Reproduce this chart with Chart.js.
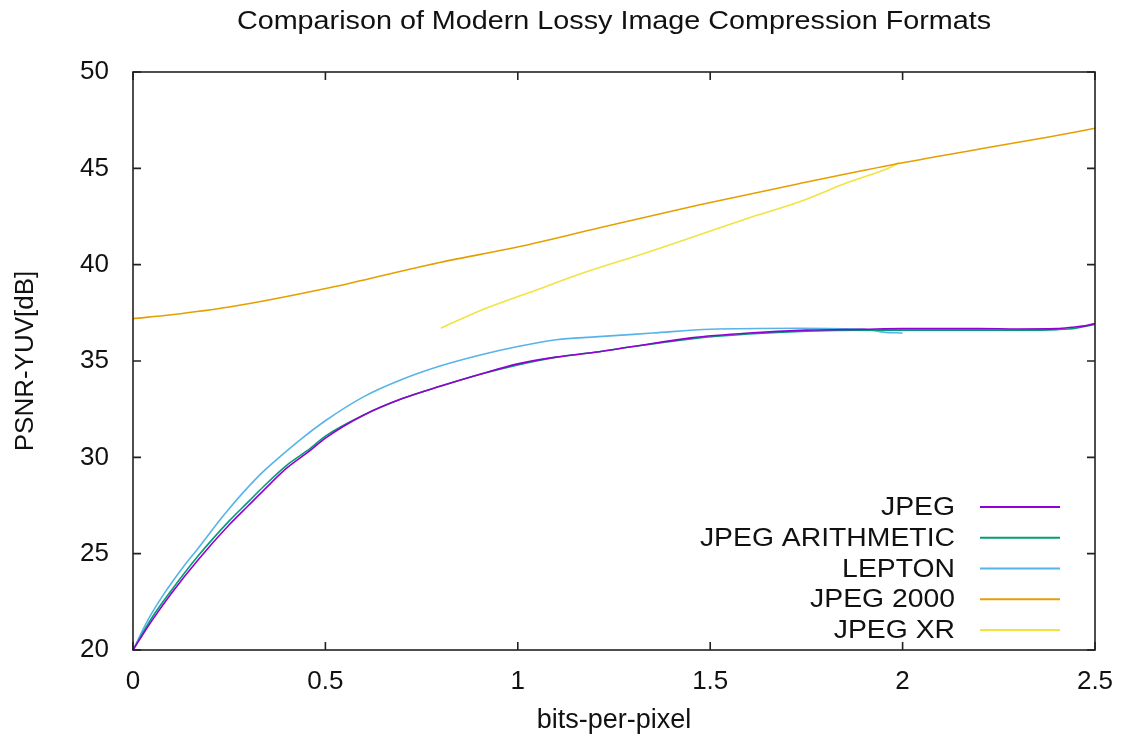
<!DOCTYPE html>
<html><head><meta charset="utf-8">
<script src="https://cdn.jsdelivr.net/npm/chart.js@4.4.1/dist/chart.umd.min.js"></script>
<style>html,body{margin:0;padding:0;background:#fff}#wrap{width:1123px;height:742px}</style>
</head><body><div id="wrap"><canvas id="c" width="1123" height="742"></canvas></div>
<script>
const chartTitle = 'Comparison of Modern Lossy Image Compression Formats';
const xTitle = 'bits-per-pixel';
const yTitle = 'PSNR-YUV[dB]';
const xTickLabels = ['0', '0.5', '1', '1.5', '2', '2.5'];
const yTickLabels = ['20', '25', '30', '35', '40', '45', '50'];
const seriesNames = ['JPEG', 'JPEG ARITHMETIC', 'LEPTON', 'JPEG 2000', 'JPEG XR'];
const seriesColors = ['#9400d3', '#009e73', '#56b4e9', '#e69f00', '#f0e442'];

const jpegBpp  = [0, 0.05, 0.1, 0.17, 0.25, 0.3, 0.34, 0.4, 0.46, 0.5, 0.6, 0.7, 0.8, 0.9, 1.0, 1.1, 1.2, 1.3, 1.45, 1.6, 1.75, 1.9, 2.0, 2.2, 2.3, 2.4, 2.44, 2.48, 2.5];
const jpegPsnr = [20.0, 21.55, 22.95, 24.7, 26.5, 27.5, 28.3, 29.45, 30.35, 31.0, 32.2, 33.05, 33.7, 34.3, 34.85, 35.2, 35.45, 35.75, 36.2, 36.45, 36.6, 36.65, 36.68, 36.68, 36.66, 36.68, 36.75, 36.85, 36.95];

const arithBpp  = [0, 0.05, 0.1, 0.17, 0.25, 0.3, 0.34, 0.4, 0.46, 0.5, 0.6, 0.7, 0.8, 0.9, 1.0, 1.1, 1.2, 1.3, 1.45, 1.6, 1.75, 1.9, 2.1, 2.3, 2.4, 2.45, 2.5];
const arithPsnr = [20.0, 21.7, 23.1, 24.9, 26.7, 27.7, 28.5, 29.6, 30.45, 31.1, 32.2, 33.05, 33.7, 34.3, 34.8, 35.2, 35.45, 35.75, 36.15, 36.4, 36.55, 36.6, 36.6, 36.6, 36.63, 36.7, 36.9];

const leptonBpp  = [0, 0.04, 0.08, 0.13, 0.17, 0.24, 0.33, 0.38, 0.44, 0.5, 0.6, 0.7, 0.8, 0.9, 1.0, 1.1, 1.2, 1.35, 1.5, 1.73, 1.9, 1.95, 2.0];
const leptonPsnr = [20.0, 21.6, 22.9, 24.3, 25.3, 27.1, 29.1, 30.0, 31.0, 31.9, 33.15, 34.05, 34.75, 35.3, 35.75, 36.1, 36.25, 36.45, 36.65, 36.7, 36.65, 36.5, 36.45];

const j2kBpp  = [0, 0.1, 0.25, 0.51, 0.77, 1.03, 1.21, 1.47, 1.73, 1.97, 2.2, 2.38, 2.5];
const j2kPsnr = [37.2, 37.4, 37.8, 38.8, 40.0, 41.05, 41.9, 43.1, 44.2, 45.17, 46.0, 46.63, 47.08];

const jxrBpp  = [0.8, 0.9, 1.03, 1.16, 1.34, 1.47, 1.6, 1.73, 1.86, 1.97, 1.99];
const jxrPsnr = [36.7, 37.6, 38.55, 39.5, 40.66, 41.54, 42.42, 43.25, 44.29, 45.07, 45.3];

function pts(xs, ys) { return xs.map((x, i) => ({ x: x, y: ys[i] })); }
const seriesX = [jpegBpp, arithBpp, leptonBpp, j2kBpp, jxrBpp];
const seriesY = [jpegPsnr, arithPsnr, leptonPsnr, j2kPsnr, jxrPsnr];

const FONT = '"Liberation Sans", Arial, sans-serif';

function stretchedText(ctx, text, x, y, sx) {
  ctx.save();
  ctx.translate(x, y);
  ctx.scale(sx, 1);
  ctx.fillText(text, 0, 0);
  ctx.restore();
}

const framePlugin = {
  id: 'frame',
  afterDraw(chart) {
    const ctx = chart.ctx, a = chart.chartArea;
    const xs = chart.scales.x, ys = chart.scales.y;
    ctx.save();
    ctx.strokeStyle = '#222';
    ctx.lineWidth = 1.6;
    ctx.strokeRect(a.left, a.top, a.right - a.left, a.bottom - a.top);
    const tl = 8;
    ctx.beginPath();
    xs.ticks.forEach(t => {
      const px = xs.getPixelForValue(t.value);
      ctx.moveTo(px, a.bottom); ctx.lineTo(px, a.bottom - tl);
      ctx.moveTo(px, a.top); ctx.lineTo(px, a.top + tl);
    });
    ys.ticks.forEach(t => {
      const py = ys.getPixelForValue(t.value);
      ctx.moveTo(a.left, py); ctx.lineTo(a.left + tl, py);
      ctx.moveTo(a.right, py); ctx.lineTo(a.right - tl, py);
    });
    ctx.stroke();
    // title
    ctx.fillStyle = '#111';
    ctx.font = '25px ' + FONT;
    ctx.textAlign = 'center';
    ctx.textBaseline = 'middle';
    stretchedText(ctx, chartTitle, (a.left + a.right) / 2, 22, 1.15);
    // legend
    ctx.font = '26px ' + FONT;
    ctx.textAlign = 'right';
    chart.data.datasets.forEach((ds, i) => {
      const y = a.bottom - 143 + i * 30.75;
      ctx.fillStyle = '#111';
      stretchedText(ctx, ds.label, a.right - 140, y + 1, 1.09);
      ctx.strokeStyle = ds.borderColor;
      ctx.lineWidth = 1.8;
      ctx.beginPath();
      ctx.moveTo(a.right - 115, y); ctx.lineTo(a.right - 35, y);
      ctx.stroke();
    });
    ctx.restore();
  }
};

new Chart(document.getElementById('c'), {
  type: 'line',
  data: {
    datasets: seriesNames.map((name, i) => ({
      label: name,
      data: pts(seriesX[i], seriesY[i]),
      borderColor: seriesColors[i],
      backgroundColor: seriesColors[i],
      borderWidth: 1.6,
      pointRadius: 0,
      fill: false,
      cubicInterpolationMode: 'monotone'
    }))
  },
  options: {
    responsive: false,
    devicePixelRatio: 1,
    animation: false,
    layout: { padding: { top: 72, right: 28, left: 0, bottom: 0 } },
    plugins: { legend: { display: false }, title: { display: false }, tooltip: { enabled: false } },
    scales: {
      x: {
        type: 'linear', min: 0, max: 2.5,
        grid: { display: false }, border: { display: false },
        ticks: { stepSize: 0.5, color: '#111', font: { family: FONT, size: 26 }, padding: 8, maxRotation: 0,
          callback: (v) => xTickLabels[Math.round(v / 0.5)] },
        title: { display: true, text: xTitle, color: '#111', font: { family: FONT, size: 27 }, padding: { top: 0, bottom: 5 } },
        afterFit: (s) => { s.height = 92; s.paddingLeft = 0; s.paddingRight = 0; }
      },
      y: {
        type: 'linear', min: 20, max: 50,
        grid: { display: false }, border: { display: false },
        ticks: { stepSize: 5, color: '#111', font: { family: FONT, size: 26 }, padding: 16,
          callback: (v) => yTickLabels[Math.round((v - 20) / 5)] },
        title: { display: true, text: yTitle, color: '#111', font: { family: FONT, size: 26 }, padding: { top: 10, bottom: 0 } },
        afterFit: (s) => { s.width = 133; s.paddingTop = 0; s.paddingBottom = 0; }
      }
    }
  },
  plugins: [framePlugin]
});
</script></body></html>
